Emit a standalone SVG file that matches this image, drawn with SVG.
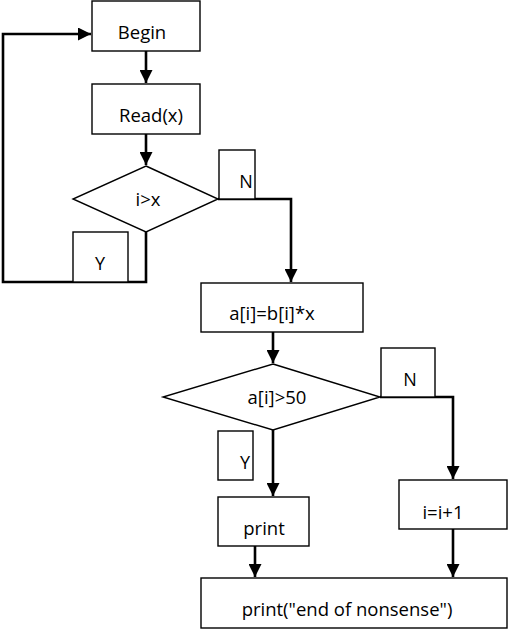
<svg xmlns="http://www.w3.org/2000/svg" width="509" height="630" viewBox="0 0 509 630">
<style>
.box{fill:#fff;stroke:#000;stroke-width:1.4}
.lbl{fill:#fff;stroke:#000;stroke-width:1.4}
.t{font-family:"Open Sans","Liberation Sans",sans-serif;font-size:18.5px;fill:#000;text-anchor:middle}
.s{font-size:18px}
.c{fill:none;stroke:#000;stroke-width:2.6}
</style>
<defs>
<marker id="ah" viewBox="0 0 10 10" refX="10" refY="5" markerWidth="5" markerHeight="5" markerUnits="strokeWidth" orient="auto">
<path d="M0,0 L10,5 L0,10 z" fill="#000"/>
</marker>
</defs>
<rect width="509" height="630" fill="#fff"/>
<g id="connectors">
<path class="c" d="M146,51 V83" marker-end="url(#ah)"/>
<path class="c" d="M146,134 V165" marker-end="url(#ah)"/>
<path class="c" d="M218,199 H291 V282" marker-end="url(#ah)"/>
<path class="c" d="M146,232 V282 H3 V34 H91" marker-end="url(#ah)"/>
<path class="c" d="M273,332 V363" marker-end="url(#ah)"/>
<path class="c" d="M380,397 H453 V479" marker-end="url(#ah)"/>
<path class="c" d="M273,430 V496" marker-end="url(#ah)"/>
<path class="c" d="M255,546 V577" marker-end="url(#ah)"/>
<path class="c" d="M453,529 V577" marker-end="url(#ah)"/>
</g>
<g id="begin"><rect class="box" x="92" y="1" width="108" height="50"/><text class="t" x="142" y="39">Begin</text></g>
<g id="read"><rect class="box" x="92" y="84" width="108" height="50"/><text class="t" x="151" y="122">Read(x)</text></g>
<g id="cond1"><polygon class="box" points="146,166 218,199 146,232 73,199"/><text class="t" x="148" y="206">i&gt;x</text></g>
<g id="n1"><rect class="lbl" x="219" y="150" width="36" height="49"/><text class="t s" x="246" y="188">N</text></g>
<g id="y1"><rect class="lbl" x="73" y="232" width="55" height="50"/><text class="t s" x="100" y="270">Y</text></g>
<g id="assign"><rect class="box" x="201" y="283" width="162" height="49"/><text class="t" x="272" y="320">a[i]=b[i]*x</text></g>
<g id="cond2"><polygon class="box" points="273,364 380,397 273,430 163,397"/><text class="t" x="277" y="404">a[i]&gt;50</text></g>
<g id="n2"><rect class="lbl" x="381" y="348" width="54" height="49"/><text class="t s" x="410" y="386">N</text></g>
<g id="y2"><rect class="lbl" x="218" y="431" width="35" height="49"/><text class="t s" x="245" y="469">Y</text></g>
<g id="print"><rect class="box" x="218" y="497" width="91" height="49"/><text class="t" x="264" y="535">print</text></g>
<g id="inc"><rect class="box" x="399" y="480" width="108" height="49"/><text class="t" x="443" y="519">i=i+1</text></g>
<g id="end"><rect class="box" x="201" y="578" width="306" height="50"/><text class="t" x="347" y="616">print("end of nonsense")</text></g>
</svg>
